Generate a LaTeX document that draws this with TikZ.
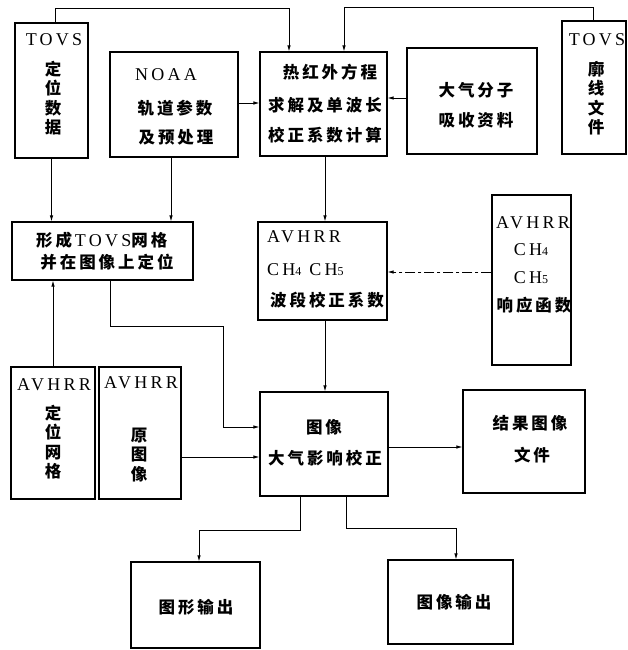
\documentclass[tikz,border=0pt]{standalone}
\usepackage{fontspec}
\setmainfont{Liberation Serif}
\newfontfamily\lat{Liberation Serif}[LetterSpace=18]
\newfontfamily\cjk{Noto Sans CJK SC}[LetterSpace=18]
\usetikzlibrary{arrows.meta,fit}
\begin{document}
\begin{tikzpicture}[x=1pt,y=-1pt,
  box/.style={draw, line width=1.1pt, inner sep=0pt},
  cj/.style={font=\cjk\bfseries\fontsize{16.5}{19.5}\selectfont, inner sep=0pt, align=center},
  lt/.style={font=\lat\fontsize{18}{20}\selectfont, inner sep=0pt},
  arr/.style={line width=0.8pt, -{Latex[length=6pt,width=3.5pt]}},
  dd/.style={arr, dash pattern=on 10pt off 3pt on 3pt off 3pt}]
\useasboundingbox[fill=white] (0,0) rectangle (628,650);

% boxes
\node[box, fit={(15,23) (88,158)}] (tovs1) {};
\node[box, fit={(110,52) (238,157)}] (noaa) {};
\node[box, fit={(260,52) (387,156)}] (heat) {};
\node[box, fit={(407,48) (537,154)}] (dq) {};
\node[box, fit={(562,21) (626,154)}] (tovs2) {};
\node[box, fit={(12,222) (193,280)}] (form) {};
\node[box, fit={(258,222) (387,320)}] (ch) {};
\node[box, fit={(492,195) (571,365)}] (resp) {};
\node[box, fit={(11,367) (95,499)}] (grid) {};
\node[box, fit={(99,367) (181,499)}] (orig) {};
\node[box, fit={(260,392) (388,496)}] (img) {};
\node[box, fit={(463,390) (585,493)}] (res) {};
\node[box, fit={(131,562) (260,648)}] (out1) {};
\node[box, fit={(388,560) (513,644)}] (out2) {};

% texts
\node[lt] (tovs1a) at (54,40) {TOVS};
\node[cj] (tovs1b) at (53,98) {定\\位\\数\\据};
\node[lt] (noaaa) at (166,75) {NOAA};
\node[cj] (noaab) at (175,108) {轨道参数};
\node[cj] (noaac) at (176,137) {及预处理};
\node[cj] (heata) at (330,72) {热红外方程};
\node[cj] (heatb) at (325,105) {求解及单波长};
\node[cj] (heatc) at (325,135) {校正系数计算};
\node[cj] (dqa) at (476,90) {大气分子};
\node[cj] (dqb) at (476,120) {吸收资料};
\node[lt] (tovs2a) at (597,40) {TOVS};
\node[cj] (tovs2b) at (596,98) {廓\\线\\文\\件};
\node[cj, anchor=west] (forma) at (36,240) {形成\,{\lat\mdseries\fontsize{18}{20}\selectfont TOVS}网格};
\node[cj] (formb) at (107,262) {并在图像上定位};
\node[lt, anchor=west] (cha) at (267,237) {AVHRR};
\node[lt, anchor=west] (chb) at (267,270) {CH{\fontsize{12}{12}\selectfont 4}\hspace{8pt}CH{\fontsize{12}{12}\selectfont 5}};
\node[cj] (chc) at (327,300) {波段校正系数};
\node[lt] (respa) at (533,223) {AVHRR};
\node[lt] (respb) at (531,250) {CH{\fontsize{12}{12}\selectfont 4}};
\node[lt] (respc) at (531,278) {CH{\fontsize{12}{12}\selectfont 5}};
\node[cj] (respd) at (534,305) {响应函数};
\node[lt] (grida) at (54,385) {AVHRR};
\node[cj] (gridb) at (53,442) {定\\位\\网\\格};
\node[lt] (origa) at (141,383) {AVHRR};
\node[cj] (origb) at (139,455) {原\\图\\像};
\node[cj] (imga) at (324,427) {图像};
\node[cj] (imgb) at (325,458) {大气影响校正};
\node[cj] (resa) at (530,423) {结果图像};
\node[cj] (resb) at (532,455) {文件};
\node[cj] (out1a) at (196,607) {图形输出};
\node[cj] (out2a) at (454,602) {图像输出};

% helper coordinates
\coordinate (y8) at (0,8);
\coordinate (y7) at (0,7);
\coordinate (h103) at (0,103);
\coordinate (h98) at (0,98);
\coordinate (h272) at (0,272);
\coordinate (h457) at (0,457);
\coordinate (h447) at (0,447);
\coordinate (vx) at (325,0);
\coordinate (b1) at (110,326);
\coordinate (b2) at (223,427);
\coordinate (b3) at (300,530);
\coordinate (b4) at (199,530);
\coordinate (b5) at (346,528);
\coordinate (b6) at (456,528);

% connectors
\draw[arr] ([xshift=3.5pt]tovs1.north) -- ([xshift=3.5pt]tovs1.north |- y8) -| ([xshift=-34.5pt]heat.north);
\draw[arr] ([xshift=-0.5pt]tovs2.north) -- ([xshift=-0.5pt]tovs2.north |- y7) -| ([xshift=20.5pt]heat.north);
\draw[arr] (noaa.east |- h103) -- (heat.west |- h103);
\draw[arr] (dq.west |- h98) -- (heat.east |- h98);
\draw[arr] (tovs1.south) -- (tovs1.south |- form.north);
\draw[arr] ([xshift=-3pt]noaa.south) -- ([xshift=-3pt]noaa.south |- form.north);
\draw[arr] (vx |- heat.south) -- (vx |- ch.north);
\draw[dd] (resp.west |- h272) -- (ch.east |- h272);
\draw[arr] (vx |- ch.south) -- (vx |- img.north);
\draw[arr] (form.south -| b1) -- (b1) -| (b2) -- (b2 -| img.west);
\draw[arr] (grid.north) -- (grid.north |- form.south);
\draw[arr] (orig.east |- h457) -- (img.west |- h457);
\draw[arr] (img.east |- h447) -- (res.west |- h447);
\draw[arr] (img.south -| b3) -- (b3) -| (b4 |- out1.north);
\draw[arr] (img.south -| b5) -- (b5) -| (b6 |- out2.north);
\end{tikzpicture}
\end{document}
